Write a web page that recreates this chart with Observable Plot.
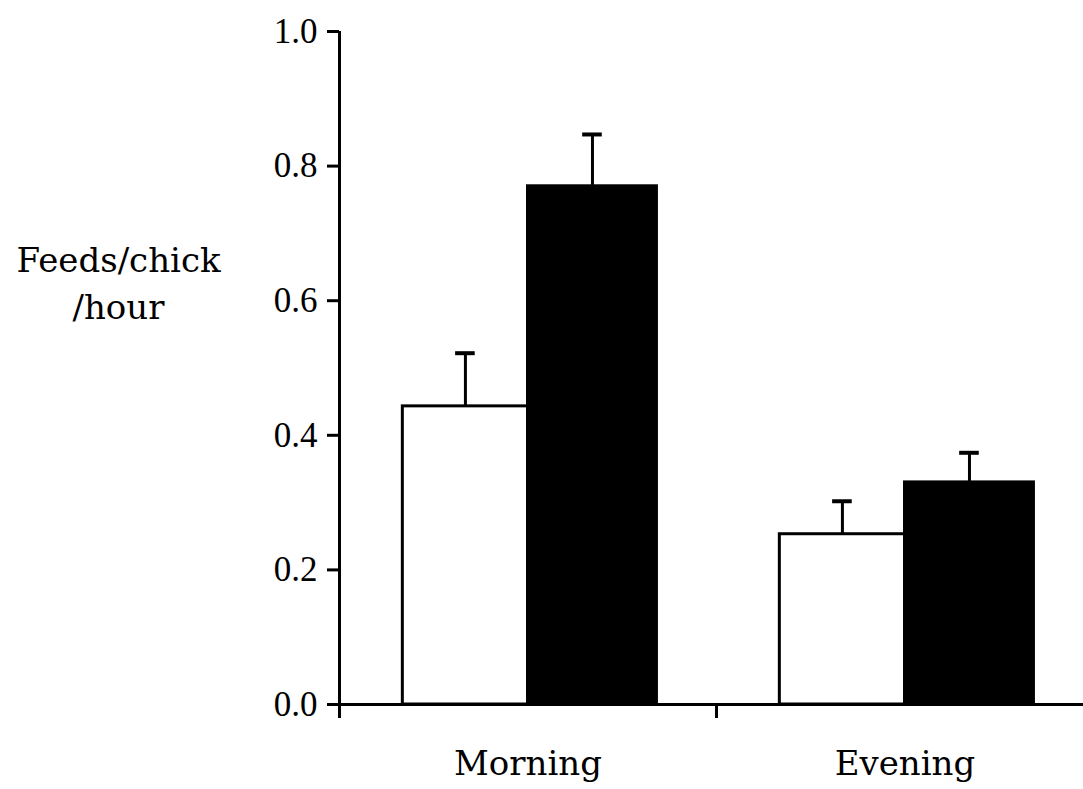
<!DOCTYPE html>
<html>
<head>
<meta charset="utf-8">
<script src="https://cdn.jsdelivr.net/npm/d3@7"></script>
<script src="https://cdn.jsdelivr.net/npm/@observablehq/plot@0.6"></script>
<style>
  html, body { margin: 0; padding: 0; background: #fff; }
  svg { display: block; }
</style>
</head>
<body>
<div id="chart"></div>
<script>
const categories = ["Morning", "Evening"];
const openMeans = [0.443, 0.253];
const openErrors = [0.079, 0.049];
const filledMeans = [0.770, 0.330];
const filledErrors = [0.077, 0.044];
const yTicks = [0, 0.2, 0.4, 0.6, 0.8, 1.0];
const yLabel = "Feeds/chick\n/hour";

const bars = [];
categories.forEach((c, i) => {
  bars.push({cat: c, i, group: "open", lo: i + 0.168, hi: i + 0.5, value: openMeans[i], err: openErrors[i]});
  bars.push({cat: c, i, group: "filled", lo: i + 0.5, hi: i + 0.842, value: filledMeans[i], err: filledErrors[i]});
});
bars.forEach(d => { d.mid = (d.lo + d.hi) / 2; d.top = d.value + d.err; });

const capHalf = 0.026;

const chart = Plot.plot({
  width: 1083,
  height: 789,
  marginLeft: 339,
  marginRight: 0,
  marginTop: 31,
  marginBottom: 85,
  style: {fontFamily: "Liberation Serif", fontSize: "35px", color: "#000", background: "#fff"},
  x: {domain: [0, 2], range: [339, 1093]},
  y: {domain: [0, 1]},
  marks: [
    Plot.rectY(bars.filter(d => d.group === "open"), {x1: "lo", x2: "hi", y1: 0, y2: "value", fill: "#fff", stroke: "#000", strokeWidth: 3}),
    Plot.rectY(bars.filter(d => d.group === "filled"), {x1: "lo", x2: "hi", y1: 0, y2: "value", fill: "#000", stroke: "#000", strokeWidth: 3}),
    Plot.ruleX(bars, {x: "mid", y1: "value", y2: "top", stroke: "#000", strokeWidth: 3}),
    Plot.ruleY(bars, {y: "top", x1: d => d.mid - capHalf, x2: d => d.mid + capHalf, stroke: "#000", strokeWidth: 4}),
    Plot.ruleX([0], {y1: 0, y2: 1, stroke: "#000", strokeWidth: 3}),
    Plot.ruleY([0], {x1: 0, x2: 2, stroke: "#000", strokeWidth: 3}),
    Plot.axisY({ticks: yTicks, tickFormat: d3.format(".1f"), tickSize: 12, tickPadding: 10, strokeWidth: 3, label: null, fontSize: 35, fontFamily: "Liberation Serif"}),
    Plot.axisX({ticks: [0, 1], tickSize: 14, tickFormat: () => "", strokeWidth: 3, label: null}),
    Plot.text(categories, {x: (d, i) => i + 0.5, y: 0, text: d => d, dy: 60, fontSize: 34, fontFamily: "DejaVu Serif", fill: "#000"}),
    Plot.text([yLabel], {frameAnchor: "top-left", dx: -221, dy: 249, text: d => d, textAnchor: "middle", lineAnchor: "middle", lineHeight: 1.38, fontSize: 34, fontFamily: "DejaVu Serif", fill: "#000"})
  ]
});
document.getElementById("chart").appendChild(chart);
</script>
</body>
</html>
